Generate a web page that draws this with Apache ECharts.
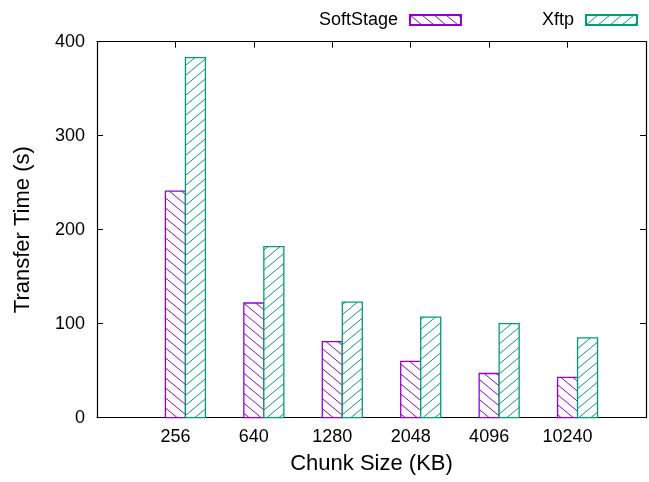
<!DOCTYPE html>
<html>
<head>
<meta charset="utf-8">
<script src="https://cdn.jsdelivr.net/npm/echarts@6/dist/echarts.min.js"></script>
<style>
html,body{margin:0;padding:0;background:#fff;}
#chart{width:649px;height:482px;}
</style>
</head>
<body>
<div id="chart"></div>
<script>
const categories = ['256', '640', '1280', '2048', '4096', '10240'];
const softstage = [241, 122, 81, 60, 47, 43];
const xftp = [383, 182, 123, 107, 100, 85];
const yTicks = [0, 100, 200, 300, 400];

const PURPLE = '#9400d3';
const GREEN = '#009e73';
const FONT = 'Liberation Sans, Arial, Helvetica, sans-serif';

function hatch(color, dir) {
  const w = 12, h = 10;
  const c = document.createElement('canvas');
  c.width = w; c.height = h;
  const g = c.getContext('2d');
  g.fillStyle = '#fff';
  g.fillRect(0, 0, w, h);
  g.strokeStyle = color;
  g.lineWidth = 1;
  g.beginPath();
  for (let k = -1; k <= 1; k++) {
    if (dir === 'back') { g.moveTo(k * w, 0); g.lineTo(k * w + w, h); }
    else { g.moveTo(k * w, h); g.lineTo(k * w + w, 0); }
  }
  g.stroke();
  return { image: c, repeat: 'repeat' };
}
const softFill = hatch(PURPLE, 'back');
const xftpFill = hatch(GREEN, 'fwd');

function barRenderer(offsetPx, fill, stroke) {
  return function (params, api) {
    const top = api.coord([api.value(0), api.value(1)]);
    const base = api.coord([api.value(0), 0]);
    const bw = 20;
    return {
      type: 'rect',
      shape: { x: top[0] + offsetPx, y: top[1], width: bw, height: base[1] - top[1] },
      style: { fill: fill, stroke: stroke, lineWidth: 1.3 }
    };
  };
}

const chart = echarts.init(document.getElementById('chart'), null, { renderer: 'canvas' });
const axisLine = { show: true, onZero: false, lineStyle: { color: '#000', width: 1.2 } };
const innerTick = { show: true, inside: true, length: 6, lineStyle: { color: '#000', width: 1 } };
chart.setOption({
  animation: false,
  backgroundColor: '#fff',
  textStyle: { fontFamily: FONT },
  grid: { left: 97, right: 1, top: 41.7, bottom: 64.3 },
  legend: {
    data: ['SoftStage', 'Xftp'],
    right: 11, top: 11,
    align: 'right',
    icon: 'rect',
    itemWidth: 51, itemHeight: 10, itemGap: 80,
    padding: 0,
    textStyle: { fontSize: 18, color: '#000', fontFamily: FONT, padding: [0, 7, 0, 0], lineHeight: 18 }
  },
  xAxis: [{
    type: 'value', min: -1, max: 6, interval: 1, position: 'bottom',
    axisLine: axisLine, axisTick: { show: false }, splitLine: { show: false },
    axisLabel: { fontSize: 18, color: '#000', margin: 10, fontFamily: FONT,
      formatter: v => (categories[v] !== undefined ? categories[v] : '') },
    name: 'Chunk Size (KB)', nameLocation: 'middle', nameGap: 35,
    nameTextStyle: { fontSize: 22, color: '#000', fontFamily: FONT }
  }, {
    type: 'value', min: -1, max: 6, interval: 1, position: 'top',
    axisLine: axisLine, axisTick: innerTick,
    axisLabel: { show: false }, splitLine: { show: false }
  }],
  yAxis: [{
    type: 'value', min: yTicks[0], max: yTicks[yTicks.length - 1], interval: 100, position: 'left',
    axisLine: axisLine, axisTick: innerTick,
    splitLine: { show: false },
    axisLabel: { fontSize: 18, color: '#000', margin: 12, fontFamily: FONT },
    name: 'Transfer Time (s)', nameLocation: 'middle', nameGap: 63,
    nameTextStyle: { fontSize: 22, color: '#000', fontFamily: FONT }
  }, {
    type: 'value', min: yTicks[0], max: yTicks[yTicks.length - 1], interval: 100, position: 'right',
    axisLine: axisLine, axisTick: innerTick,
    splitLine: { show: false }, axisLabel: { show: false }
  }],
  series: [{
    name: 'SoftStage', type: 'custom', xAxisIndex: 0, yAxisIndex: 0,
    itemStyle: { color: softFill, borderColor: PURPLE, borderWidth: 1.3 },
    renderItem: barRenderer(-10, softFill, PURPLE),
    encode: { x: 0, y: 1 },
    data: softstage.map((v, i) => [i, v])
  }, {
    name: 'Xftp', type: 'custom', xAxisIndex: 0, yAxisIndex: 0,
    itemStyle: { color: xftpFill, borderColor: GREEN, borderWidth: 1.3 },
    renderItem: barRenderer(10, xftpFill, GREEN),
    encode: { x: 0, y: 1 },
    data: xftp.map((v, i) => [i, v])
  }]
});
</script>
</body>
</html>
